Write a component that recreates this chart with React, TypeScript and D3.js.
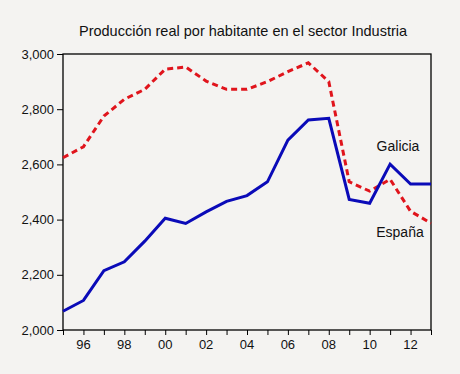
import React, { useRef, useEffect } from 'react';
import * as d3 from 'd3';

// years 1995..2013
const years = [1995, 1996, 1997, 1998, 1999, 2000, 2001, 2002, 2003, 2004, 2005, 2006, 2007, 2008, 2009, 2010, 2011, 2012, 2013];
const galicia = [2068, 2107, 2215, 2247, 2322, 2405, 2386, 2428, 2466, 2487, 2537, 2688, 2761, 2767, 2473, 2459, 2601, 2529, 2529];
const espana = [2624, 2664, 2775, 2836, 2872, 2945, 2953, 2902, 2872, 2872, 2900, 2936, 2968, 2900, 2537, 2503, 2546, 2430, 2387];
const yTicks = [2000, 2200, 2400, 2600, 2800, 3000];
const xLabelYears = [1996, 1998, 2000, 2002, 2004, 2006, 2008, 2010, 2012];

export default function App() {
  const ref = useRef<SVGSVGElement>(null);

  useEffect(() => {
    const svg = d3.select(ref.current);
    svg.selectAll('*').remove();
    const W = 460, H = 374;
    const m = { top: 54, right: 29, bottom: 44, left: 63 };
    const w = W - m.left - m.right;
    const h = H - m.top - m.bottom;
    const font = 'Liberation Sans, Arial, sans-serif';

    svg.append('rect').attr('width', W).attr('height', H).attr('fill', '#f4f3f1');

    svg.append('text')
      .attr('x', 243).attr('y', 36)
      .attr('text-anchor', 'middle')
      .style('font-family', font).style('font-size', '14.5px').attr('fill', '#111')
      .text('Producción real por habitante en el sector Industria');

    const g = svg.append('g').attr('transform', `translate(${m.left},${m.top})`);

    const x = d3.scaleLinear().domain([1995, 2013]).range([0, w]);
    const y = d3.scaleLinear().domain([2000, 3000]).range([h, 0]);

    // frame
    g.append('rect').attr('width', w).attr('height', h)
      .attr('fill', 'none').attr('stroke', '#000').attr('stroke-width', 1.3);

    // y axis
    const ya = g.append('g').call(
      d3.axisLeft(y).tickValues(yTicks).tickFormat(d3.format(',')).tickSize(6).tickPadding(3)
    );
    ya.select('.domain').remove();
    ya.selectAll('line').attr('stroke', '#000');
    ya.selectAll('text').style('font-family', font).style('font-size', '13px').attr('fill', '#111');

    // x axis
    const xa = g.append('g').attr('transform', `translate(0,${h})`).call(
      d3.axisBottom(x).tickValues(years).tickFormat(() => '').tickSize(5)
    );
    xa.select('.domain').remove();
    xa.selectAll('line').attr('stroke', '#000');

    g.selectAll('.xl').data(xLabelYears).enter().append('text')
      .attr('x', d => x(d)).attr('y', h + 19)
      .attr('text-anchor', 'middle')
      .style('font-family', font).style('font-size', '13px').attr('fill', '#111')
      .text(d => String(d % 100).padStart(2, '0'));

    const line = d3.line<number>()
      .x((_, i) => x(years[i]))
      .y(d => y(d));

    g.append('path').datum(espana)
      .attr('d', line).attr('fill', 'none')
      .attr('stroke', '#e0141c').attr('stroke-width', 3)
      .attr('stroke-dasharray', '6,4');

    g.append('path').datum(galicia)
      .attr('d', line).attr('fill', 'none')
      .attr('stroke', '#0a0ab8').attr('stroke-width', 3)
      .attr('stroke-linejoin', 'miter');

    g.append('text')
      .attr('x', 398 - m.left).attr('y', 151 - m.top)
      .attr('text-anchor', 'middle')
      .style('font-family', font).style('font-size', '14px').attr('fill', '#111')
      .text('Galicia');

    g.append('text')
      .attr('x', 400 - m.left).attr('y', 237 - m.top)
      .attr('text-anchor', 'middle')
      .style('font-family', font).style('font-size', '14px').attr('fill', '#111')
      .text('España');
  }, []);

  return (
    <svg ref={ref} width={460} height={374}
      style={{ position: 'absolute', left: 0, top: 0, display: 'block' }} />
  );
}
